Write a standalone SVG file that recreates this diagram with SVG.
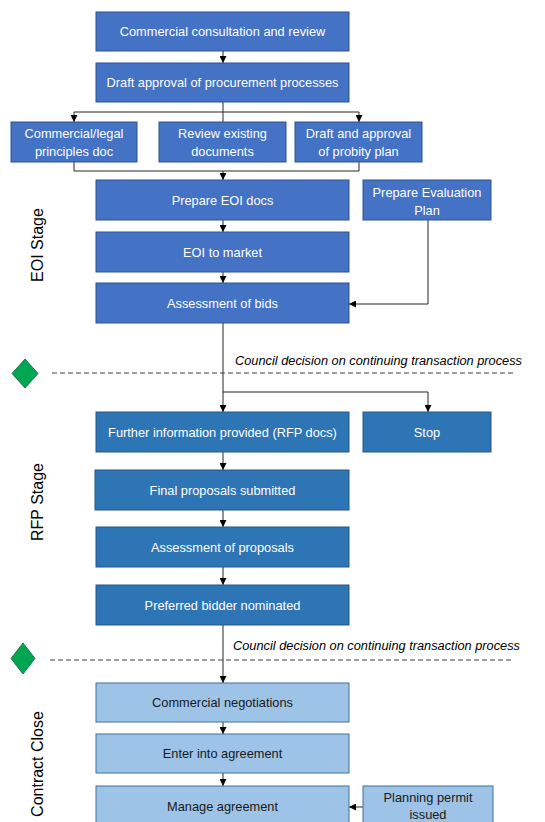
<svg xmlns="http://www.w3.org/2000/svg" width="545" height="822" viewBox="0 0 545 822">
<style>
.b1{fill:#4472C4;stroke:#2F528F;stroke-width:1}
.b2{fill:#2E75B6;stroke:#24598A;stroke-width:1}
.b3{fill:#9DC3E6;stroke:#41719C;stroke-width:1}
.t{font-family:"Liberation Sans",Arial,sans-serif;font-size:12.8px;text-anchor:middle;fill:#ffffff}
.td{font-family:"Liberation Sans",Arial,sans-serif;font-size:12.8px;text-anchor:middle;fill:#1a1a1a}
.c{fill:none;stroke:#262626;stroke-width:1}
.stage{font-family:"Liberation Sans",Arial,sans-serif;font-size:16px;text-anchor:middle;fill:#000}
.note{font-family:"Liberation Sans",Arial,sans-serif;font-size:12px;font-style:italic;fill:#000}
.dash{stroke:#404040;stroke-width:1;stroke-dasharray:5,3}
.dia{fill:#00A651;stroke:#1E7B45;stroke-width:1}
</style>
<defs>
<marker id="ah" markerWidth="7" markerHeight="7" refX="7" refY="3.5" orient="auto" markerUnits="userSpaceOnUse">
<path d="M0,0 L7,3.5 L0,7 z" fill="#000"/>
</marker>
</defs>
<rect width="545" height="822" fill="#ffffff"/>

<g id="connectors">
<path class="c" d="M223,51 V63" marker-end="url(#ah)"/>
<path class="c" d="M223,102 V122"/>
<path class="c" d="M223,112 H74 V122" marker-end="url(#ah)"/>
<path class="c" d="M223,112 H359 V122" marker-end="url(#ah)"/>
<path class="c" d="M74,162 V171 H359 V162"/>
<path class="c" d="M223,171 V180" marker-end="url(#ah)"/>
<path class="c" d="M223,220 V232" marker-end="url(#ah)"/>
<path class="c" d="M223,272 V283" marker-end="url(#ah)"/>
<path class="c" d="M428,220 V304 H349" marker-end="url(#ah)"/>
<path class="c" d="M223,323 V412" marker-end="url(#ah)"/>
<path class="c" d="M223,392 H428 V412" marker-end="url(#ah)"/>
<path class="c" d="M223,452 V470" marker-end="url(#ah)"/>
<path class="c" d="M223,510 V527" marker-end="url(#ah)"/>
<path class="c" d="M223,567 V585" marker-end="url(#ah)"/>
<path class="c" d="M223,625 V683" marker-end="url(#ah)"/>
<path class="c" d="M223,722 V734" marker-end="url(#ah)"/>
<path class="c" d="M223,773 V786" marker-end="url(#ah)"/>
<path class="c" d="M363,807 H349" marker-end="url(#ah)"/>
</g>

<g id="decision1">
<line class="dash" x1="52" y1="373" x2="515" y2="373"/>
<path class="dia" d="M25,359 L38,373.5 L25,388 L12,373.5 z"/>
<text class="note" x="522" y="365" text-anchor="end" textLength="287" lengthAdjust="spacingAndGlyphs">Council decision on continuing transaction process</text>
</g>
<g id="decision2">
<line class="dash" x1="50" y1="660" x2="513" y2="660"/>
<path class="dia" d="M23,643 L35,658.5 L23,674 L11,658.5 z"/>
<text class="note" x="520" y="650" text-anchor="end" textLength="287" lengthAdjust="spacingAndGlyphs">Council decision on continuing transaction process</text>
</g>

<g id="stages">
<text class="stage" transform="translate(43,245) rotate(-90)">EOI Stage</text>
<text class="stage" transform="translate(43,502) rotate(-90)">RFP Stage</text>
<text class="stage" transform="translate(43,764) rotate(-90)">Contract Close</text>
</g>

<g id="n1"><rect class="b1" x="96" y="12" width="253" height="39"/><text class="t" x="222.5" y="36">Commercial consultation and review</text></g>
<g id="n2"><rect class="b1" x="96" y="63" width="253" height="39"/><text class="t" x="222.5" y="87">Draft approval of procurement processes</text></g>
<g id="n3"><rect class="b1" x="11" y="122" width="126" height="40"/><text class="t" x="74" y="138">Commercial/legal</text><text class="t" x="74" y="156">principles doc</text></g>
<g id="n4"><rect class="b1" x="159" y="122" width="127" height="40"/><text class="t" x="222.5" y="138">Review existing</text><text class="t" x="222.5" y="156">documents</text></g>
<g id="n5"><rect class="b1" x="295" y="122" width="127" height="40"/><text class="t" x="358.5" y="138">Draft and approval</text><text class="t" x="358.5" y="156">of probity plan</text></g>
<g id="n6"><rect class="b1" x="96" y="180" width="253" height="40"/><text class="t" x="222.5" y="205">Prepare EOI docs</text></g>
<g id="n7"><rect class="b1" x="363" y="180" width="128" height="40"/><text class="t" x="427" y="197">Prepare Evaluation</text><text class="t" x="427" y="215">Plan</text></g>
<g id="n8"><rect class="b1" x="96" y="232" width="253" height="40"/><text class="t" x="222.5" y="257">EOI to market</text></g>
<g id="n9"><rect class="b1" x="96" y="283" width="253" height="40"/><text class="t" x="222.5" y="308">Assessment of bids</text></g>
<g id="n10"><rect class="b2" x="96" y="412" width="253" height="40"/><text class="t" x="222.5" y="437">Further information provided (RFP docs)</text></g>
<g id="n11"><rect class="b2" x="363" y="412" width="128" height="40"/><text class="t" x="427" y="437">Stop</text></g>
<g id="n12"><rect class="b2" x="95" y="470" width="254" height="40"/><text class="t" x="222.5" y="495">Final proposals submitted</text></g>
<g id="n13"><rect class="b2" x="96" y="527" width="253" height="40"/><text class="t" x="222.5" y="552">Assessment of proposals</text></g>
<g id="n14"><rect class="b2" x="96" y="585" width="253" height="40"/><text class="t" x="222.5" y="610">Preferred bidder nominated</text></g>
<g id="n15"><rect class="b3" x="96" y="683" width="253" height="39"/><text class="td" x="222.5" y="707">Commercial negotiations</text></g>
<g id="n16"><rect class="b3" x="96" y="734" width="253" height="39"/><text class="td" x="222.5" y="758">Enter into agreement</text></g>
<g id="n17"><rect class="b3" x="96" y="786" width="253" height="40"/><text class="td" x="222.5" y="811">Manage agreement</text></g>
<g id="n18"><rect class="b3" x="363" y="786" width="130" height="40"/><text class="td" x="428" y="802">Planning permit</text><text class="td" x="428" y="819">issued</text></g>
</svg>
